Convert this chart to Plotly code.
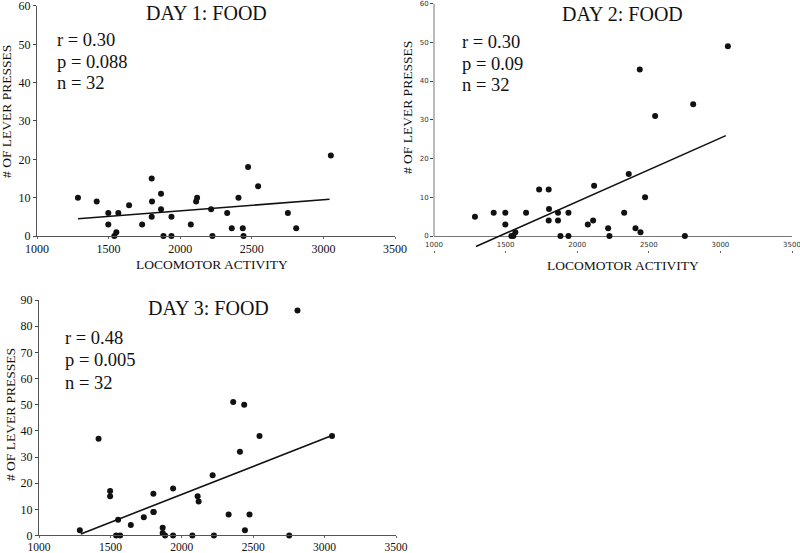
import plotly.graph_objects as go

# ---- data ----
locomotor = [1286, 1417, 1498, 1498, 1540, 1554, 1568, 1643, 1734, 1801, 1803, 1801,
             1866, 1866, 1883, 1939, 1939, 2074, 2111, 2118, 2216, 2225, 2328, 2360,
             2407, 2437, 2442, 2474, 2544, 2752, 2810, 3052]
day1_presses = [10, 9, 6, 3, 0, 1, 6, 8, 3, 15, 9, 5, 11, 7, 0, 0, 5, 3, 9, 10, 7, 0,
                6, 2, 10, 2, 0, 18, 13, 6, 2, 21]
day2_presses = [5, 6, 6, 3, 0, 0, 1, 6, 12, 12, 7, 4, 6, 4, 0, 6, 0, 3, 4, 13, 2, 0,
                6, 16, 2, 43, 1, 10, 31, 0, 34, 49]
day3_presses = [2, 37, 17, 15, 0, 6, 0, 4, 7, 16, 9, 9, 3, 1, 0, 18, 0, 0, 15, 13, 23, 0,
                8, 51, 32, 50, 2, 8, 38, 0, 86, 38]

fit1_x, fit1_y = [1286, 3043], [4.5, 9.6]
fit2_x, fit2_y = [1293, 3038], [-2.7, 25.9]
fit3_x, fit3_y = [1293, 3052], [0.6, 38.2]

titles = ["DAY 1: FOOD", "DAY 2: FOOD", "DAY 3: FOOD"]
stats1 = ["r = 0.30", "p = 0.088", "n = 32"]
stats2 = ["r = 0.30", "p = 0.09", "n = 32"]
stats3 = ["r = 0.48", "p = 0.005", "n = 32"]
x_ticks = [1000, 1500, 2000, 2500, 3000, 3500]
y_ticks_a = [0, 10, 20, 30, 40, 50, 60]
y_ticks_b = [0, 10, 20, 30, 40, 50, 60, 70, 80, 90]
x_title = "LOCOMOTOR ACTIVITY"
y_title = "# OF LEVER PRESSES"

INK = "#111111"
SERIF = "Liberation Serif"

X2_DOMAIN = [0.5425, 0.99]

fig = go.Figure()

panels = [
    (locomotor, day1_presses, fit1_x, fit1_y, "x", "y"),
    (locomotor, day2_presses, fit2_x, fit2_y, "x2", "y2"),
    (locomotor, day3_presses, fit3_x, fit3_y, "x3", "y3"),
]
for xs, ys, fx, fy, xa, ya in panels:
    fig.add_trace(go.Scatter(x=xs, y=ys, mode="markers", xaxis=xa, yaxis=ya,
                             marker=dict(size=6, color=INK), cliponaxis=False,
                             showlegend=False, hoverinfo="skip"))
    fig.add_trace(go.Scatter(x=fx, y=fy, mode="lines", xaxis=xa, yaxis=ya,
                             line=dict(color=INK, width=1.6),
                             showlegend=False, hoverinfo="skip"))

serif_tick = dict(family=SERIF, size=12, color=INK)
serif_tick_small = dict(family=SERIF, size=11.5, color=INK)
sans_tick = dict(family="DejaVu Sans", size=7, color="#333333")

common_x = dict(range=[1000, 3500], tickvals=x_ticks, showgrid=False, zeroline=False,
                ticks="outside", ticklen=2, tickcolor="#666", fixedrange=True,
                automargin=False, ticklabeloverflow="allow")
common_y = dict(showgrid=False, zeroline=False, ticks="outside", ticklen=3,
                tickcolor="#444", fixedrange=True, automargin=False,
                ticklabeloverflow="allow")

fig.update_layout(
    width=800, height=553,
    margin=dict(l=0, r=0, t=0, b=0),
    paper_bgcolor="white", plot_bgcolor="white",
    xaxis=dict(**common_x, domain=[0.04625, 0.49375], anchor="y",
               showline=True, linecolor="#555", linewidth=1, tickfont=serif_tick),
    yaxis=dict(**common_y, domain=[0.5732, 0.9892], anchor="x", range=[0, 60],
               tickvals=y_ticks_a, showline=True, linecolor="#555", linewidth=1,
               tickfont=serif_tick),
    xaxis2=dict(**common_x, domain=X2_DOMAIN, anchor="y2",
                showline=False, tickfont=sans_tick, ticklabelstandoff=-14),
    yaxis2=dict(showgrid=False, ticks="outside", ticklen=3, tickcolor="#444",
                fixedrange=True, automargin=False, ticklabeloverflow="allow",
                domain=[0.5487, 0.99367], anchor="x2",
                range=[-3.5, 60], tickvals=y_ticks_a, showline=False,
                zeroline=True, zerolinecolor="#777", zerolinewidth=1,
                tickfont=sans_tick),
    xaxis3=dict(**common_x, domain=[0.04875, 0.495], anchor="y3",
                showline=True, linecolor="#555", linewidth=1, tickfont=serif_tick_small,
                ticklabelstandoff=-1),
    yaxis3=dict(**common_y, domain=[0.03165, 0.4575], anchor="x3", range=[0, 90],
                tickvals=y_ticks_b, showline=True, linecolor="#555", linewidth=1,
                tickfont=serif_tick),
)

# y-axis line of panel 2 (stops at 0 like the original)
fig.add_shape(type="line", xref="paper", yref="y2", x0=X2_DOMAIN[0], x1=X2_DOMAIN[0],
              y0=0, y1=60, line=dict(color="#777", width=1), layer="above")

ann = []
title_font = dict(family=SERIF, size=20, color=INK)
for text, x, y in zip(titles, [0.2575, 0.7775, 0.26], [0.9765, 0.9747, 0.4430]):
    ann.append(dict(text=text, x=x, y=y, xref="paper", yref="paper",
                    showarrow=False, font=title_font, xanchor="center", yanchor="middle"))

stat_font = dict(family=SERIF, size=18.5, color=INK)
for lines, x, ys in [(stats1, 0.06875, [40, 62, 83]),
                     (stats2, 0.575, [42, 64, 85]),
                     (stats3, 0.07875, [338, 360, 383])]:
    for text, ypx in zip(lines, ys):
        ann.append(dict(text=text, x=x, y=1 - ypx / 553, xref="paper", yref="paper",
                        showarrow=False, font=stat_font, xanchor="left", yanchor="middle"))

lab_font = dict(family=SERIF, size=13.5, color=INK)
for x, y in [(0.265, 0.5208), (0.77875, 0.519)]:
    ann.append(dict(text=x_title, x=x, y=y, xref="paper", yref="paper", showarrow=False,
                    font=lab_font, xanchor="center", yanchor="middle"))
for x, y in [(0.00875, 0.7975), (0.50875, 0.8047), (0.0125, 0.2495)]:
    ann.append(dict(text=y_title, x=x, y=y, xref="paper", yref="paper", showarrow=False,
                    font=lab_font, xanchor="center", yanchor="middle", textangle=-90))

fig.update_layout(annotations=ann)

fig.write_html("out.html", config={"displayModeBar": False},
               post_script="document.body.style.margin='0';document.body.style.overflow='hidden';")
